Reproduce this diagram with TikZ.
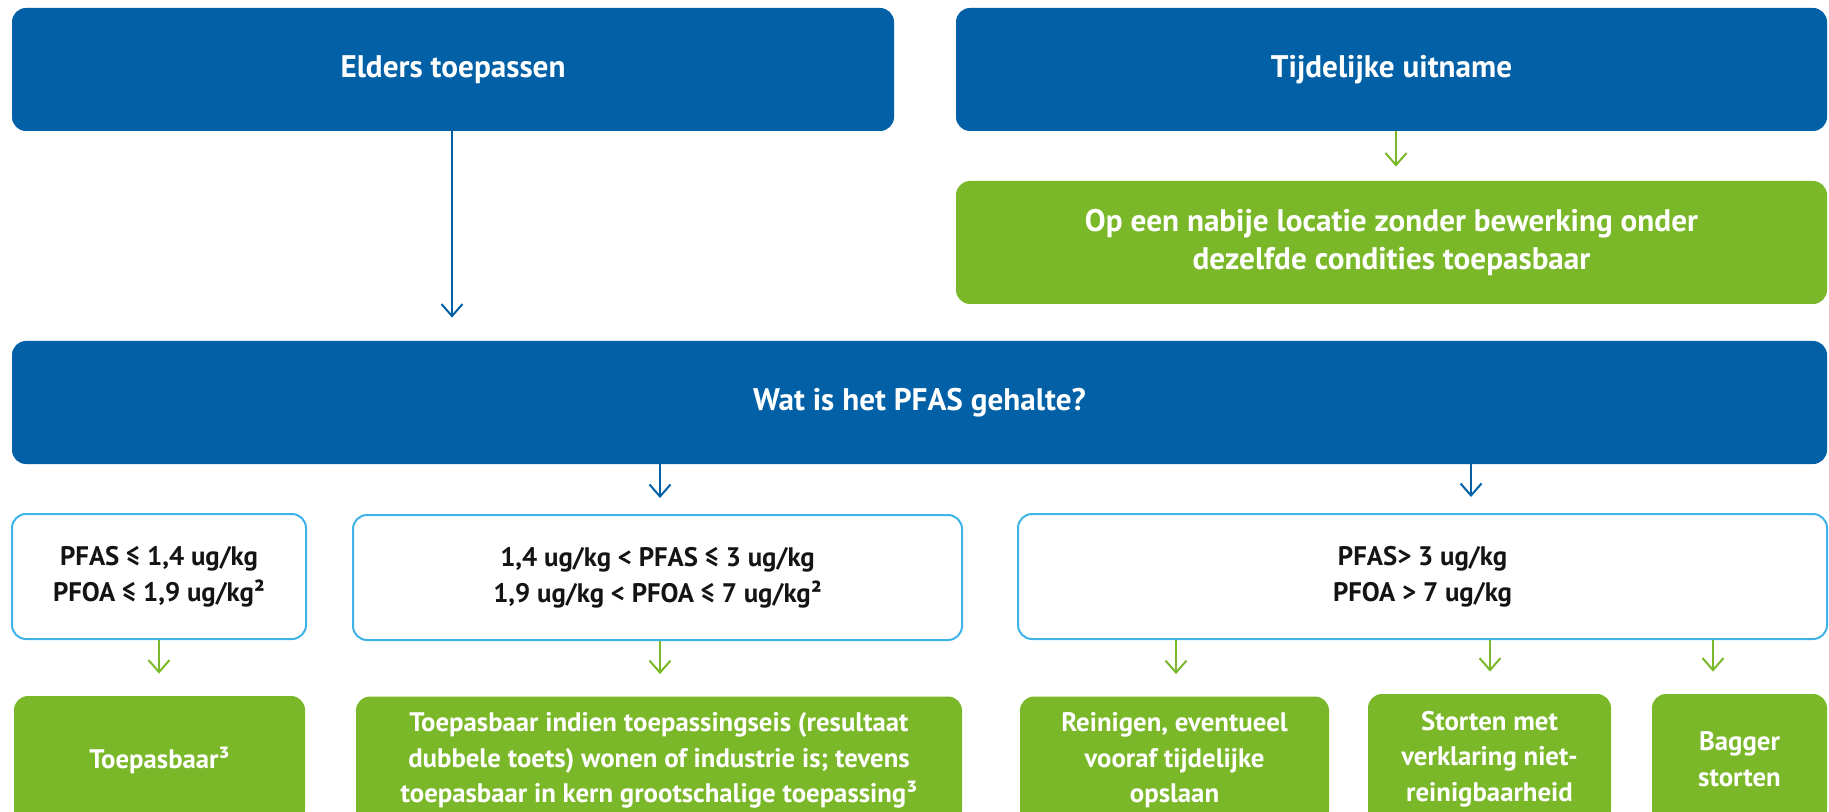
\documentclass[tikz,border=0pt]{standalone}
\usepackage{fontspec}
\setmainfont{PT Sans}
\usetikzlibrary{arrows.meta}
\definecolor{rijkblue}{HTML}{0160A6}
\definecolor{rijkgreen}{HTML}{7AB82A}
\definecolor{lineblue}{HTML}{3FB3E8}
\definecolor{textdark}{HTML}{141414}

\begin{document}
\begin{tikzpicture}
[x=0.5pt, y=-0.5pt,
  boxDecorate/.style={shape=rectangle,rounded corners=7pt,inner sep=0pt,align=center,%
    font=\bfseries\fontsize{13.4}{17.8}\selectfont},%
  headDecorate/.style={boxDecorate,fill=rijkblue,text=white,minimum height=61.5pt,%
    font=\bfseries\fontsize{15.6}{19.2}\selectfont},%
  checkDecorate/.style={boxDecorate,draw=lineblue,line width=1pt,fill=white,text=textdark,%
    minimum height=62.5pt},%
  resultDecorate/.style={boxDecorate,fill=rijkgreen,text=white,minimum height=64pt},%
  lineDecorate/.style={line width=1pt,-{Straight Barb[length=6pt,width=10.5pt]}}]
\clip (0,0) rectangle (1829,812);
%% questions
\node (elders) at (453,69.5) [headDecorate,minimum width=441pt] {Elders toepassen};
\node (tijd) at (1391.5,69.5) [headDecorate,minimum width=435.5pt] {Tijdelijke uitname};
\node (opeen) at (1391.5,242.5) [headDecorate,fill=rijkgreen,minimum width=435.5pt]
  {Op een nabije locatie zonder bewerking onder\\dezelfde condities toepasbaar};
\node (wat) at (919.5,402.5) [headDecorate,minimum width=907.5pt] {Wat is het PFAS gehalte?};
%% limits
\node (laag) at (159,576.5) [checkDecorate,minimum width=147pt]
  {PFAS ≤ 1,4 ug/kg\\PFOA ≤ 1,9 ug/kg²};
\node (midden) at (657.5,577.5) [checkDecorate,minimum width=304.5pt]
  {1,4 ug/kg < PFAS ≤ 3 ug/kg\\1,9 ug/kg < PFOA ≤ 7 ug/kg²};
\node (hoog) at (1422.5,576.5) [checkDecorate,minimum width=404.5pt]
  {PFAS> 3 ug/kg\\PFOA > 7 ug/kg};
%% outcomes
\node (toep) at (159.5,760) [resultDecorate,minimum width=145.5pt] {Toepasbaar³};
\node (indien) at (659,760.5) [resultDecorate,minimum width=303pt]
  {Toepasbaar indien toepassingseis (resultaat\\dubbele toets) wonen of industrie is; tevens\\toepasbaar in kern grootschalige toepassing³};
\node (reinigen) at (1174.5,760.5) [resultDecorate,minimum width=154.5pt]
  {Reinigen, eventueel\\vooraf tijdelijke\\opslaan};
\node (storten) at (1489.5,759) [resultDecorate,minimum width=121.5pt,minimum height=65pt]
  {Storten met\\verklaring niet-\\reinigbaarheid};
\node (bagger) at (1739.5,759) [resultDecorate,minimum width=87.5pt,minimum height=65pt]
  {Bagger\\storten};
%% arrows
\foreach \startnode/\endnode/\x/\gap/\col in {
  elders/wat/452/11.5/rijkblue, tijd/opeen/1396/7/rijkgreen,
  wat/midden/660/8/rijkblue, wat/hoog/1471/8/rijkblue,
  laag/toep/159/11/rijkgreen, midden/indien/660/11/rijkgreen,
  hoog/reinigen/1176/11/rijkgreen, hoog/storten/1490/11/rijkgreen,
  hoog/bagger/1713/11/rijkgreen}
{
  \draw[lineDecorate,draw=\col,shorten >=\gap pt] (\x,0 |- \startnode.south) -- (\x,0 |- \endnode.north);
}
\end{tikzpicture}
\end{document}
